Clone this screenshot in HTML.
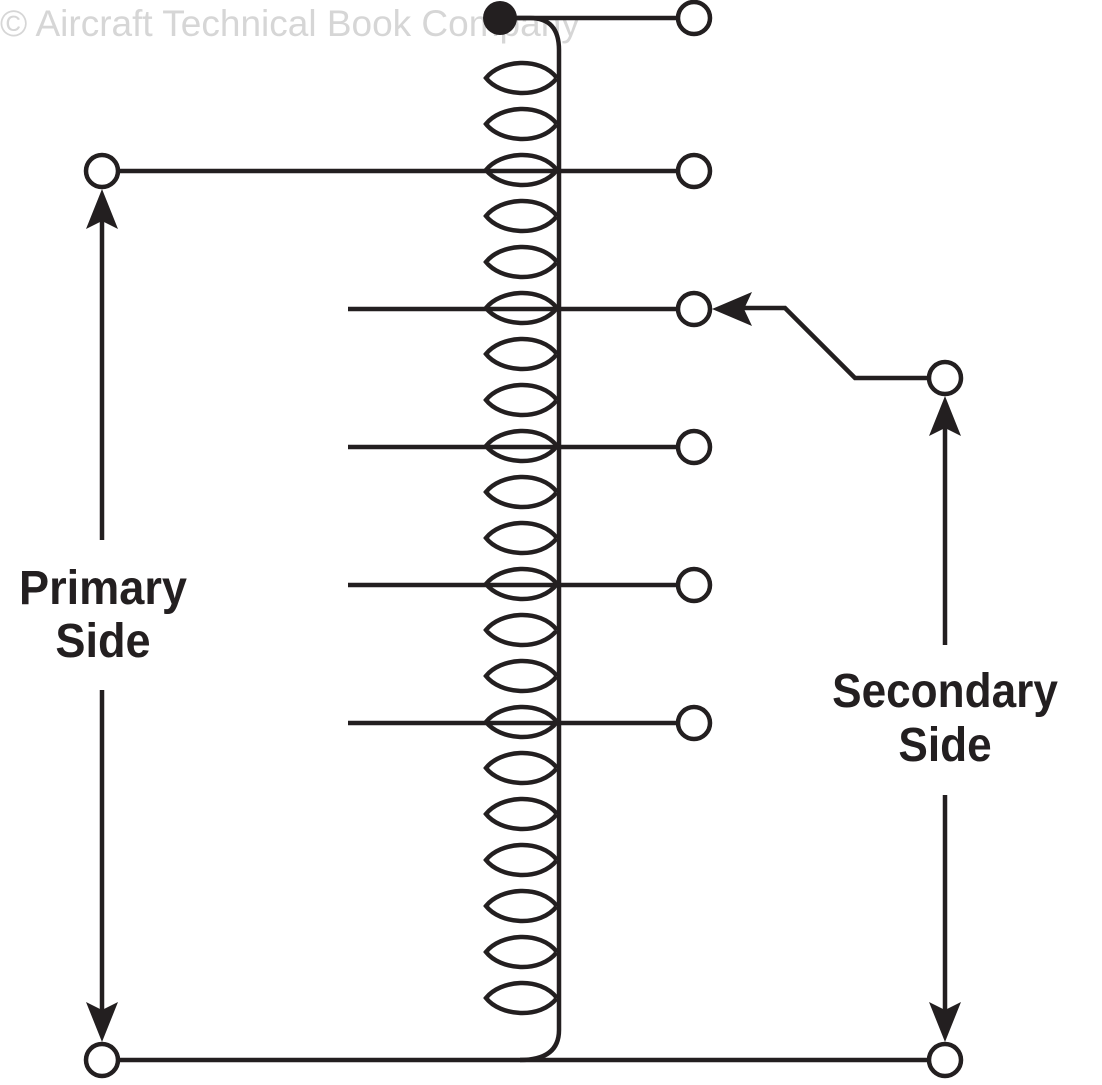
<!DOCTYPE html>
<html><head><style>body{margin:0;background:#fff}</style></head><body>
<svg width="1102" height="1080" xmlns="http://www.w3.org/2000/svg">
<text x="0" y="36" font-family="Liberation Sans, sans-serif" font-size="37" fill="#d6d6d6">© Aircraft Technical Book Company</text>
<g stroke="#231f20" stroke-width="4.5" fill="none">
<path d="M500 18 H530 Q559 18 559 50 V1030 Q559 1060 520 1060"/>
<path d="M118 1060 H929"/>
<path d="M500 18 H678"/>
<path d="M118 171 H678"/>
<path d="M348 309 H678 M348 447 H678 M348 585 H678 M348 723 H678"/>
<path d="M557 78 C540 56 500 60 486 78 C500 96 540 100 557 78
M557 124 C540 102 500 106 486 124 C500 142 540 146 557 124
M557 170 C540 148 500 152 486 170 C500 188 540 192 557 170
M557 216 C540 194 500 198 486 216 C500 234 540 238 557 216
M557 262 C540 240 500 244 486 262 C500 280 540 284 557 262
M557 308 C540 286 500 290 486 308 C500 326 540 330 557 308
M557 354 C540 332 500 336 486 354 C500 372 540 376 557 354
M557 400 C540 378 500 382 486 400 C500 418 540 422 557 400
M557 446 C540 424 500 428 486 446 C500 464 540 468 557 446
M557 492 C540 470 500 474 486 492 C500 510 540 514 557 492
M557 538 C540 516 500 520 486 538 C500 556 540 560 557 538
M557 584 C540 562 500 566 486 584 C500 602 540 606 557 584
M557 630 C540 608 500 612 486 630 C500 648 540 652 557 630
M557 676 C540 654 500 658 486 676 C500 694 540 698 557 676
M557 722 C540 700 500 704 486 722 C500 740 540 744 557 722
M557 768 C540 746 500 750 486 768 C500 786 540 790 557 768
M557 814 C540 792 500 796 486 814 C500 832 540 836 557 814
M557 860 C540 838 500 842 486 860 C500 878 540 882 557 860
M557 906 C540 884 500 888 486 906 C500 924 540 928 557 906
M557 952 C540 930 500 934 486 952 C500 970 540 974 557 952
M557 998 C540 976 500 980 486 998 C500 1016 540 1020 557 998"/>
<path d="M929 378 H855 L785 308 H735"/>
<path d="M102 215 V540 M102 690 V1015"/>
<path d="M945 420 V645 M945 795 V1015"/>
<g fill="#fff">
<circle cx="102" cy="171" r="16"/><circle cx="694" cy="18" r="16"/><circle cx="694" cy="171" r="16"/>
<circle cx="694" cy="309" r="16"/><circle cx="694" cy="447" r="16"/><circle cx="694" cy="585" r="16"/>
<circle cx="694" cy="723" r="16"/><circle cx="945" cy="378" r="16"/><circle cx="102" cy="1060" r="16"/>
<circle cx="945" cy="1060" r="16"/>
</g>
</g>
<circle cx="500" cy="18" r="17" fill="#231f20"/>
<g fill="#231f20">
<polygon points="712,309 752,292 744,309 752,326"/>
<polygon points="102,189 86,229 102,221 118,229"/>
<polygon points="102,1042 86,1002 102,1010 118,1002"/>
<polygon points="945,396 929,436 945,428 961,436"/>
<polygon points="945,1042 929,1002 945,1010 961,1002"/>
</g>
<g font-family="Liberation Sans, sans-serif" font-weight="bold" font-size="48" fill="#231f20" text-anchor="middle">
<g transform="translate(103 0) scale(0.94 1)">
<text x="0" y="604">Primary</text>
<text x="0" y="657">Side</text>
</g>
<g transform="translate(945 0) scale(0.92 1)">
<text x="0" y="707">Secondary</text>
<text x="0" y="761">Side</text>
</g>
</g>
</svg>
</body></html>
